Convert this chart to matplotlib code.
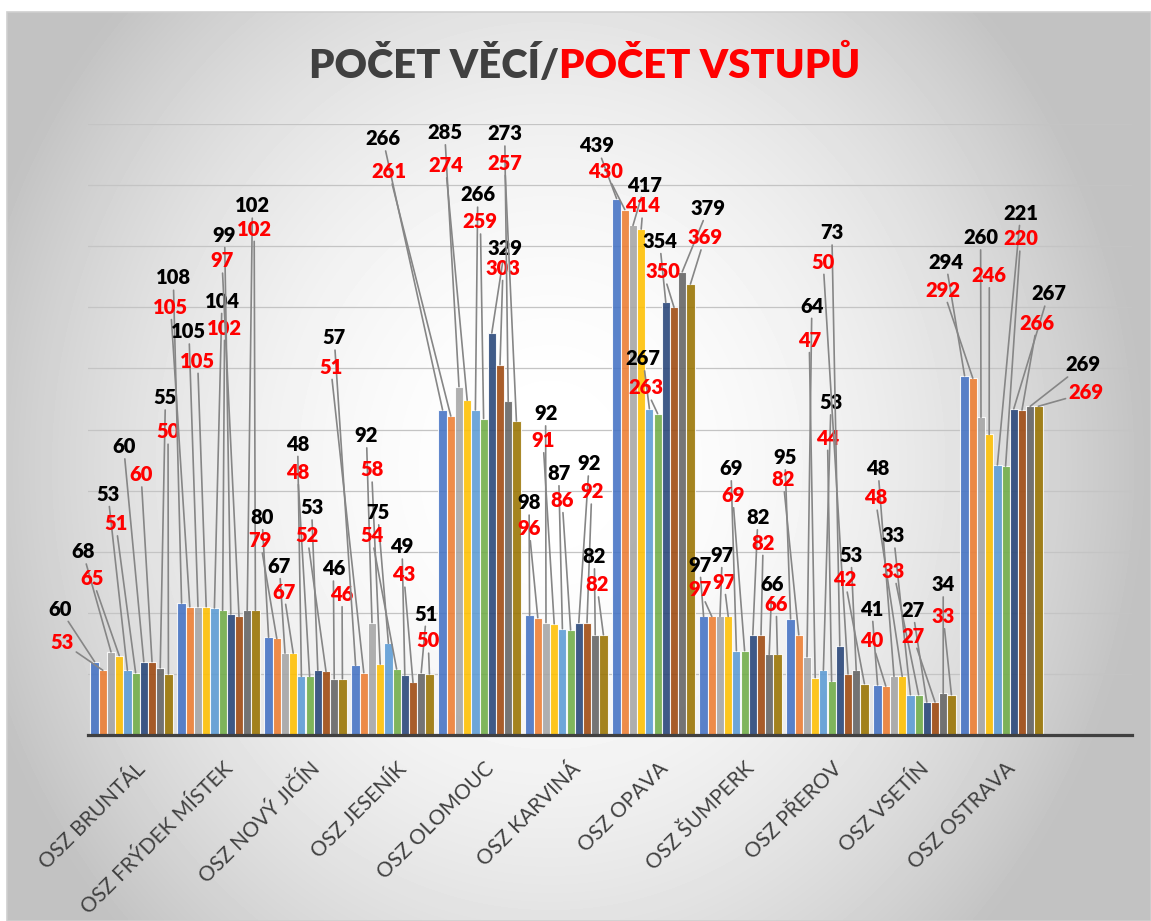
import matplotlib
matplotlib.use('Agg')
import matplotlib.pyplot as plt
import numpy as np
from matplotlib.patches import Rectangle
from matplotlib.transforms import ScaledTranslation

plt.rcParams['font.family'] = ['Lato', 'DejaVu Sans']

soudy = ['OSZ BRUNTÁL', 'OSZ FRÝDEK MÍSTEK', 'OSZ NOVÝ JIČÍN', 'OSZ JESENÍK',
         'OSZ OLOMOUC', 'OSZ KARVINÁ', 'OSZ OPAVA', 'OSZ ŠUMPERK',
         'OSZ PŘEROV', 'OSZ VSETÍN', 'OSZ OSTRAVA']

# pocet veci (black labels), five periods, one value per court
veci = [
    [60, 108, 80, 57, 266, 98, 439, 97, 95, 41, 294],
    [68, 105, 67, 92, 285, 92, 417, 97, 64, 48, 260],
    [53, 104, 48, 75, 266, 87, 267, 69, 53, 33, 221],
    [60, 99, 53, 49, 329, 92, 354, 82, 73, 27, 267],
    [55, 102, 46, 51, 273, 82, 379, 66, 53, 34, 269],
]
# pocet vstupu (red labels)
vstupy = [
    [53, 105, 79, 51, 261, 96, 430, 97, 82, 40, 292],
    [65, 105, 67, 58, 274, 91, 414, 97, 47, 48, 246],
    [51, 102, 48, 54, 259, 86, 263, 69, 44, 33, 220],
    [60, 97, 52, 43, 303, 92, 350, 82, 50, 27, 266],
    [50, 102, 46, 50, 257, 82, 369, 66, 42, 33, 269],
]

colors = ['#4472C4', '#ED7D31', '#A5A5A5', '#FFC000', '#5B9BD5',
          '#70AD47', '#264478', '#9E480E', '#636363', '#997300']

# where the callouts sit: (offset from court centre, height), per court and period
veci_pos = [
    [(-0.82, 103), (-0.56, 150), (-0.27, 197), (-0.09, 236), (0.39, 276)],
    [(-0.52, 374), (-0.34, 330), (0.04, 355), (0.07, 409), (0.39, 433)],
    [(-0.50, 178), (-0.30, 138), (-0.09, 238), (0.07, 186), (0.32, 136)],
    [(-0.67, 325), (-0.30, 245), (-0.17, 182), (0.11, 154), (0.39, 99)],
    [(-1.11, 488), (-0.40, 493), (-0.02, 442), (0.29, 398), (0.29, 492)],
    [(-0.43, 190), (-0.24, 263), (-0.09, 214), (0.26, 222), (0.32, 146)],
    [(-0.65, 482), (-0.10, 450), (-0.12, 308), (0.07, 404), (0.63, 431)],
    [(-0.47, 139), (-0.21, 147), (-0.11, 218), (0.20, 178), (0.36, 123)],
    [(-0.49, 227), (-0.18, 351), (0.04, 272), (0.05, 411), (0.27, 147)],
    [(-0.49, 103), (-0.42, 218), (-0.24, 163), (-0.02, 102), (0.33, 123)],
    [(-0.64, 387), (-0.24, 407), (0.22, 427), (0.54, 361), (0.94, 303)],
]
vstupy_pos = [
    [(-0.80, 76), (-0.45, 128), (-0.18, 173), (0.11, 213), (0.42, 248)],
    [(-0.55, 350), (-0.24, 306), (0.07, 333), (0.04, 388), (0.41, 414)],
    [(-0.52, 159), (-0.25, 117), (-0.09, 215), (0.02, 163), (0.42, 115)],
    [(-0.71, 301), (-0.24, 217), (-0.24, 163), (0.13, 131), (0.41, 77)],
    [(-1.04, 461), (-0.39, 466), (0.01, 420), (0.27, 382), (0.29, 468)],
    [(-0.43, 169), (-0.27, 241), (-0.05, 192), (0.29, 199), (0.35, 123)],
    [(-0.55, 461), (-0.12, 433), (-0.09, 284), (0.11, 379), (0.59, 407)],
    [(-0.47, 119), (-0.19, 125), (-0.09, 196), (0.26, 157), (0.41, 107)],
    [(-0.51, 209), (-0.21, 323), (0.00, 243), (-0.05, 387), (0.20, 127)],
    [(-0.49, 77), (-0.45, 194), (-0.24, 134), (-0.02, 81), (0.33, 97)],
    [(-0.67, 364), (-0.14, 376), (0.22, 406), (0.41, 337), (0.97, 280)],
]

fig = plt.figure(figsize=(11.51, 9.21), dpi=100)

# chart area with radial grey gradient
bg = fig.add_axes([7 / 1151, 0, 1144 / 1151, 909 / 921], zorder=-10)
yy, xx = np.mgrid[-1:1:300j, -1:1:360j]
shade = 1 - 0.22 * np.minimum(1.1, (xx + 0.05) ** 2 + 0.5 * yy ** 2)
bg.imshow(shade, cmap='gray', vmin=0, vmax=1, aspect='auto',
          extent=[0, 1, 0, 1], interpolation='bilinear')
bg.add_patch(Rectangle((0, 0), 1, 1, transform=bg.transAxes, fill=False,
                       edgecolor='#cfcfcf', lw=1.2, clip_on=False))
bg.set_axis_off()

ax = fig.add_axes([88 / 1151, 186 / 921, 1044 / 1151, 611 / 921])
ax.patch.set_alpha(0)

n_series = 10
w = 0.943 / n_series
x = np.arange(len(soudy))
series = []
for k in range(5):
    series.append(veci[k])
    series.append(vstupy[k])

for s, vals in enumerate(series):
    ax.bar(x + (s - 4.5) * w, vals, width=w, color=colors[s], alpha=0.88,
           edgecolor=(1, 1, 1, 0.6), linewidth=0.8, zorder=2)

line_kw = dict(arrowstyle='-', color='#868686', lw=1.2, shrinkA=0, shrinkB=0)
for i in range(len(soudy)):
    for k in range(5):
        for vals, pos, col, s in ((veci, veci_pos, '#000000', 2 * k),
                                  (vstupy, vstupy_pos, '#FF0000', 2 * k + 1)):
            v = vals[k][i]
            dx, ly = pos[i][k]
            ax.annotate(str(v), xy=(i + (s - 4.5) * w, v), xytext=(i + dx, ly),
                        ha='center', va='center', fontsize=14.5, fontweight='heavy',
                        color=col, arrowprops=line_kw, annotation_clip=False, zorder=4)

ax.set_xlim(-0.5, 11.5)
ax.set_ylim(0, 500)
ax.set_yticks(np.arange(0, 501, 50))
ax.set_yticklabels([])
ax.tick_params(axis='y', length=0)
ax.grid(axis='y', color='#c4c4c4', lw=0.9)
ax.set_axisbelow(True)
for side in ('top', 'left', 'right'):
    ax.spines[side].set_visible(False)
ax.spines['bottom'].set_color('#404040')
ax.spines['bottom'].set_linewidth(2.3)
ax.spines['bottom'].set_zorder(5)

ax.set_xticks(x)
ax.set_xticklabels(soudy, rotation=45, ha='right', va='top', rotation_mode='anchor',
                   fontsize=15, color='#404040')
ax.tick_params(axis='x', length=0, pad=17)
shift = ScaledTranslation(0.04, 0, fig.dpi_scale_trans)
for lab in ax.get_xticklabels():
    lab.set_transform(lab.get_transform() + shift)

# two-coloured title, fitted to the reference width
r = fig.canvas.get_renderer()
t1 = fig.text(0, 0.9153, 'POČET VĚCÍ/', color='#404040', fontsize=30,
              fontweight='heavy', va='baseline')
t2 = fig.text(0, 0.9153, 'POČET VSTUPŮ', color='#FF0000', fontsize=30,
              fontweight='heavy', va='baseline')
total = t1.get_window_extent(r).width + t2.get_window_extent(r).width
size = 30 * 551 / total
t1.set_fontsize(size)
t2.set_fontsize(size)
w1 = t1.get_window_extent(r).width
w2 = t2.get_window_extent(r).width
left = 584.5 - (w1 + w2) / 2
t1.set_x(left / 1151)
t2.set_x((left + w1) / 1151)

fig.savefig('out.png', dpi=100)
